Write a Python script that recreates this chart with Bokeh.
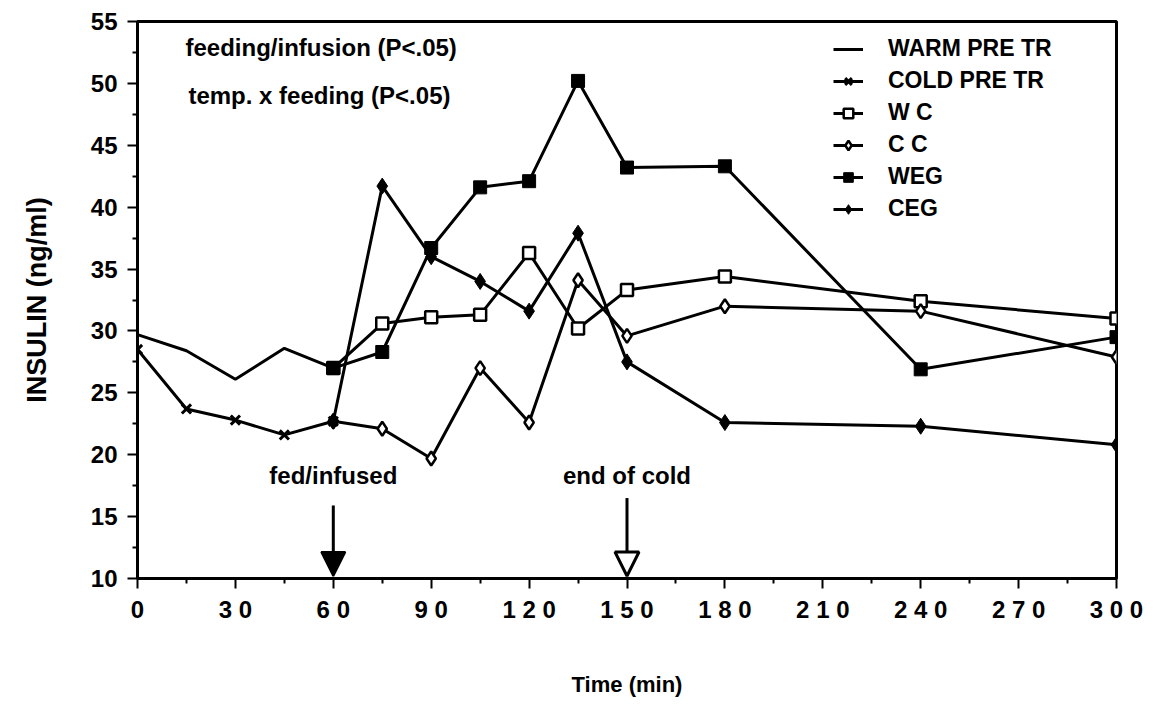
from bokeh.plotting import figure
from bokeh.models import (Range1d, FixedTicker, Legend, LegendItem, Arrow,
                          NormalHead, Label)
from bokeh.embed import file_html
from bokeh.resources import INLINE

# ---- data ----
pre_time = [0, 15, 30, 45, 60]
warm_pre = [29.7, 28.4, 26.1, 28.6, 27.0]
cold_pre = [28.5, 23.7, 22.8, 21.6, 22.7]

post_time = [60, 75, 90, 105, 120, 135, 150, 180, 240, 300]
wc = [27.0, 30.6, 31.1, 31.3, 36.3, 30.2, 33.3, 34.4, 32.4, 31.0]
cc = [22.7, 22.1, 19.7, 27.0, 22.6, 34.1, 29.6, 32.0, 31.6, 27.9]
weg = [27.0, 28.3, 36.7, 41.6, 42.1, 50.2, 43.2, 43.3, 26.9, 29.5]
ceg = [22.7, 41.7, 36.0, 34.0, 31.6, 37.9, 27.5, 22.6, 22.3, 20.8]

x_ticks = [0, 30, 60, 90, 120, 150, 180, 210, 240, 270, 300]
x_tick_labels = ["0", "3 0", "6 0", "9 0", "1 2 0", "1 5 0", "1 8 0",
                 "2 1 0", "2 4 0", "2 7 0", "3 0 0"]
y_ticks = [10, 15, 20, 25, 30, 35, 40, 45, 50, 55]

FONT = "Liberation Sans"

p = figure(width=1144, height=701, output_backend="svg", toolbar_location=None,
           x_range=Range1d(0, 300), y_range=Range1d(10, 55),
           min_border_left=137, min_border_right=28, min_border_top=21,
           min_border_bottom=123)
p.background_fill_color = "white"
p.border_fill_color = "white"
p.outline_line_color = "black"
p.outline_line_width = 3
p.xgrid.visible = False
p.ygrid.visible = False

for ax in (p.xaxis[0], p.yaxis[0]):
    ax.axis_line_width = 3
    ax.major_tick_line_width = 2
    ax.minor_tick_line_width = 2
    ax.major_tick_in = 0
    ax.minor_tick_in = 0
    ax.major_tick_out = 10
    ax.minor_tick_out = 5
    ax.major_label_text_font = FONT
    ax.major_label_text_font_style = "bold"
    ax.major_label_text_font_size = "24px"
    ax.major_label_text_color = "black"
    ax.axis_label_text_font = FONT
    ax.axis_label_text_font_style = "bold"
    ax.axis_label_text_color = "black"

p.xaxis.ticker = FixedTicker(ticks=x_ticks, minor_ticks=[15, 45, 75, 105, 135, 165, 195, 225, 255, 285])
p.xaxis.major_label_overrides = dict(zip(x_ticks, x_tick_labels))
p.xaxis.major_label_standoff = 7
p.xaxis.axis_label = "Time (min)"
p.xaxis.axis_label_text_font_size = "22px"
p.xaxis.axis_label_standoff = 46

p.yaxis.ticker = FixedTicker(ticks=y_ticks, minor_ticks=[12.5, 17.5, 22.5, 27.5, 32.5, 37.5, 42.5, 47.5, 52.5])
p.yaxis.major_label_standoff = 10
p.yaxis.axis_label = "INSULIN (ng/ml)"
p.yaxis.axis_label_text_font_size = "27px"
p.yaxis.axis_label_standoff = 36

LW = 3
r_warm = p.line(pre_time, warm_pre, line_color="black", line_width=LW)
r_cold_l = p.line(pre_time, cold_pre, line_color="black", line_width=LW)
r_cold_m = p.scatter(pre_time, cold_pre, marker="x", size=13, line_color="black", line_width=3)

r_wc_l = p.line(post_time, wc, line_color="black", line_width=LW)
r_wc_m = p.scatter(post_time, wc, marker="square", size=12, fill_color="white",
                   line_color="black", line_width=2.5)
r_cc_l = p.line(post_time, cc, line_color="black", line_width=LW)
r_cc_m = p.scatter(post_time, cc, marker="diamond", size=14, fill_color="white",
                   line_color="black", line_width=2.5)
r_weg_l = p.line(post_time, weg, line_color="black", line_width=LW)
r_weg_m = p.scatter(post_time, weg, marker="square", size=13, fill_color="black",
                    line_color="black", line_width=1)
r_ceg_l = p.line(post_time, ceg, line_color="black", line_width=LW)
r_ceg_m = p.scatter(post_time, ceg, marker="diamond", size=16, fill_color="black",
                    line_color="black", line_width=1)

legend = Legend(items=[
    LegendItem(label="WARM PRE TR", renderers=[r_warm]),
    LegendItem(label="COLD PRE TR", renderers=[r_cold_l, r_cold_m]),
    LegendItem(label="W C", renderers=[r_wc_l, r_wc_m]),
    LegendItem(label="C C", renderers=[r_cc_l, r_cc_m]),
    LegendItem(label="WEG", renderers=[r_weg_l, r_weg_m]),
    LegendItem(label="CEG", renderers=[r_ceg_l, r_ceg_m]),
], location=(696, 356))
legend.border_line_color = None
legend.background_fill_alpha = 0
legend.padding = 5
legend.margin = 0
legend.spacing = 5
legend.glyph_width = 30
legend.glyph_height = 24
legend.label_height = 24
legend.label_standoff = 25
legend.label_text_font = FONT
legend.label_text_font_style = "bold"
legend.label_text_font_size = "23px"
legend.label_text_color = "black"
p.add_layout(legend)

# ---- annotations ----
for txt, x, y in [("feeding/infusion (P<.05)", 14.7, 52.9),
                  ("temp. x feeding (P<.05)", 15.6, 49.0)]:
    p.add_layout(Label(x=x, y=y, text=txt, text_font=FONT, text_font_style="bold",
                       text_font_size="24px", text_baseline="middle", text_align="left",
                       text_color="black"))

for txt, x in [("fed/infused", 60), ("end of cold", 150)]:
    p.add_layout(Label(x=x, y=18.3, text=txt, text_font=FONT, text_font_style="bold",
                       text_font_size="24px", text_baseline="middle", text_align="center",
                       text_color="black"))

p.add_layout(Arrow(x_start=60, y_start=15.9, x_end=60, y_end=10.2, line_width=3,
                   end=NormalHead(size=24, fill_color="black", line_color="black", line_width=2)))
p.add_layout(Arrow(x_start=150, y_start=16.5, x_end=150, y_end=10.2, line_width=3,
                   end=NormalHead(size=24, fill_color="white", line_color="black", line_width=3)))

open("out.html", "w").write(file_html(p, INLINE))
